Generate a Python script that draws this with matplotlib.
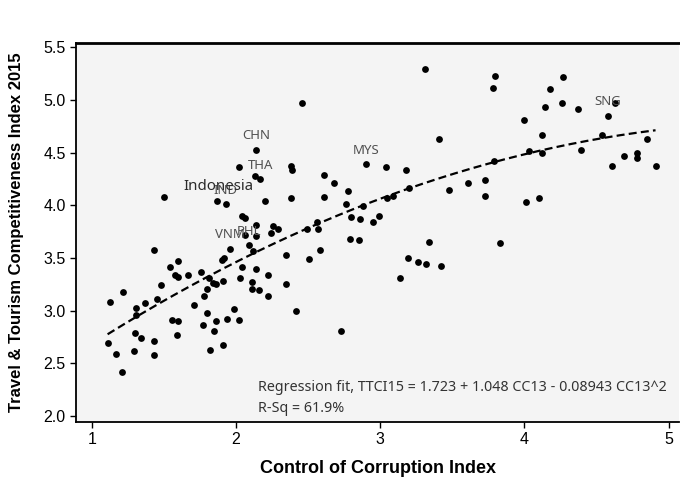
import matplotlib
matplotlib.use("Agg")
import matplotlib.pyplot as plt
import numpy as np

# Control of Corruption index 2013 (x) and TTCI 2015 score (y) per country
cc13 = [
    2.46, 2.14, 2.02, 2.38, 2.39, 2.13, 2.17, 2.90, 2.61, 2.68,
    2.78, 1.50, 1.87, 1.93, 2.20, 2.38, 2.61, 2.76, 2.88, 2.99,
    2.04, 2.06, 2.14, 2.26, 2.29, 2.24, 2.80, 2.86, 2.95, 2.06,
    2.14, 2.49, 2.56, 2.57, 2.79, 2.85, 2.58, 2.51, 2.35, 1.96,
    2.09, 2.12, 2.04, 2.14, 2.22, 2.03, 2.11, 2.11, 2.16, 2.22,
    2.35, 2.42, 1.99, 2.02, 1.94, 2.73, 1.43, 1.60, 1.54, 1.58,
    1.60, 1.67, 1.76, 1.81, 1.84, 1.86, 1.91, 1.90, 1.92, 1.48,
    1.22, 1.13, 1.45, 1.37, 1.31, 1.31, 1.80, 1.78, 1.71, 1.80,
    1.86, 1.77, 1.85, 1.56, 1.60, 1.59, 1.30, 1.34, 1.43, 1.11,
    1.17, 1.29, 1.43, 1.82, 1.91, 1.21, 3.31, 3.80, 3.78, 4.00,
    3.41, 3.04, 3.18, 3.20, 3.05, 3.09, 3.48, 3.61, 3.73, 3.73,
    3.79, 4.03, 4.01, 4.10, 3.34, 3.83, 3.19, 3.26, 3.32, 3.42,
    3.14, 4.27, 4.18, 4.14, 4.26, 4.37, 4.63, 4.58, 4.12, 4.54,
    4.85, 4.12, 4.39, 4.69, 4.78, 4.78, 4.61, 4.91,
]
ttci15 = [
    4.97, 4.53, 4.36, 4.37, 4.34, 4.28, 4.25, 4.39, 4.29, 4.21,
    4.14, 4.08, 4.04, 4.01, 4.04, 4.07, 4.08, 4.01, 3.99, 3.90,
    3.90, 3.88, 3.81, 3.80, 3.78, 3.74, 3.89, 3.87, 3.84, 3.72,
    3.71, 3.78, 3.84, 3.78, 3.68, 3.67, 3.58, 3.49, 3.53, 3.59,
    3.62, 3.57, 3.41, 3.40, 3.34, 3.31, 3.27, 3.21, 3.20, 3.14,
    3.25, 3.00, 3.02, 2.91, 2.92, 2.81, 3.58, 3.47, 3.41, 3.34,
    3.32, 3.34, 3.37, 3.31, 3.26, 3.25, 3.28, 3.48, 3.50, 3.24,
    3.18, 3.08, 3.11, 3.07, 3.03, 2.96, 3.21, 3.14, 3.05, 2.98,
    2.90, 2.86, 2.81, 2.91, 2.90, 2.77, 2.79, 2.74, 2.71, 2.69,
    2.59, 2.62, 2.58, 2.63, 2.67, 2.42, 5.29, 5.23, 5.11, 4.81,
    4.63, 4.36, 4.34, 4.16, 4.07, 4.09, 4.15, 4.21, 4.24, 4.09,
    4.42, 4.52, 4.03, 4.07, 3.65, 3.64, 3.50, 3.46, 3.44, 3.42,
    3.31, 5.22, 5.10, 4.93, 4.97, 4.91, 4.97, 4.85, 4.67, 4.67,
    4.63, 4.50, 4.53, 4.47, 4.50, 4.45, 4.37, 4.37,
]

# Labelled economies
label_codes = ["CHN", "THA", "MYS", "SNG", "IND", "VNM", "PHL"]
label_x = [2.14, 2.17, 2.90, 4.58, 1.93, 1.96, 2.09]
label_y = [4.53, 4.25, 4.39, 4.85, 4.01, 3.59, 3.62]

# Quadratic regression coefficients
b0, b1, b2 = 1.723, 1.048, -0.08943

fig = plt.figure(figsize=(6.8, 4.84), dpi=100)
ax = fig.add_axes([0.1118, 0.1287, 0.8868, 0.7831])
ax.set_facecolor("#f4f4f4")

ax.scatter(cc13, ttci15, s=24, color="black", zorder=3, linewidths=0)

xs = np.linspace(min(cc13), max(cc13), 200)
ax.plot(xs, b0 + b1 * xs + b2 * xs ** 2, color="black", lw=1.6,
        dashes=(3.6, 1.9), zorder=4)

for code, x, y in zip(label_codes, label_x, label_y):
    ax.annotate(code, (x, y), xytext=(0, 10), textcoords="offset points",
                ha="center", va="center", fontsize=9.5, color="#505050",
                family="Noto Sans", zorder=5)

ax.text(1.879, 4.177, "Indonesia", ha="center", va="center", fontsize=10.8,
        fontweight="bold", color="#2a2a2a", family="Noto Sans", zorder=6)

ax.text(2.15, 2.272, "Regression fit, TTCI15 = 1.723 + 1.048 CC13 - 0.08943 CC13^2",
        fontsize=10.3, color="#333333", family="Noto Sans", va="center")
ax.text(2.15, 2.073, "R-Sq = 61.9%", fontsize=10.3, color="#333333",
        family="Noto Sans", va="center")

ax.set_xlim(0.891, 5.073)
ax.set_ylim(1.946, 5.544)
ax.set_xticks([1, 2, 3, 4, 5])
ax.set_yticks([2.0, 2.5, 3.0, 3.5, 4.0, 4.5, 5.0, 5.5])
ax.set_yticklabels([f"{v:.1f}" for v in ax.get_yticks()])
ax.tick_params(axis="both", direction="out", length=4, width=1,
               labelsize=11.5, colors="black")
for lab in ax.get_xticklabels() + ax.get_yticklabels():
    lab.set_family("Liberation Sans")

for side in ["left", "bottom", "top"]:
    ax.spines[side].set_color("black")
    ax.spines[side].set_linewidth(1.3)
ax.spines["top"].set_linewidth(2.0)
ax.spines["right"].set_visible(False)

ax.set_xlabel("Control of Corruption Index", fontsize=13, fontweight="bold",
              family="Liberation Sans", labelpad=9)
ax.set_ylabel("Travel & Tourism Competitiveness Index 2015", fontsize=12,
              fontweight="bold", family="Liberation Sans", labelpad=14)

fig.savefig("out.png", dpi=100, facecolor="white")
